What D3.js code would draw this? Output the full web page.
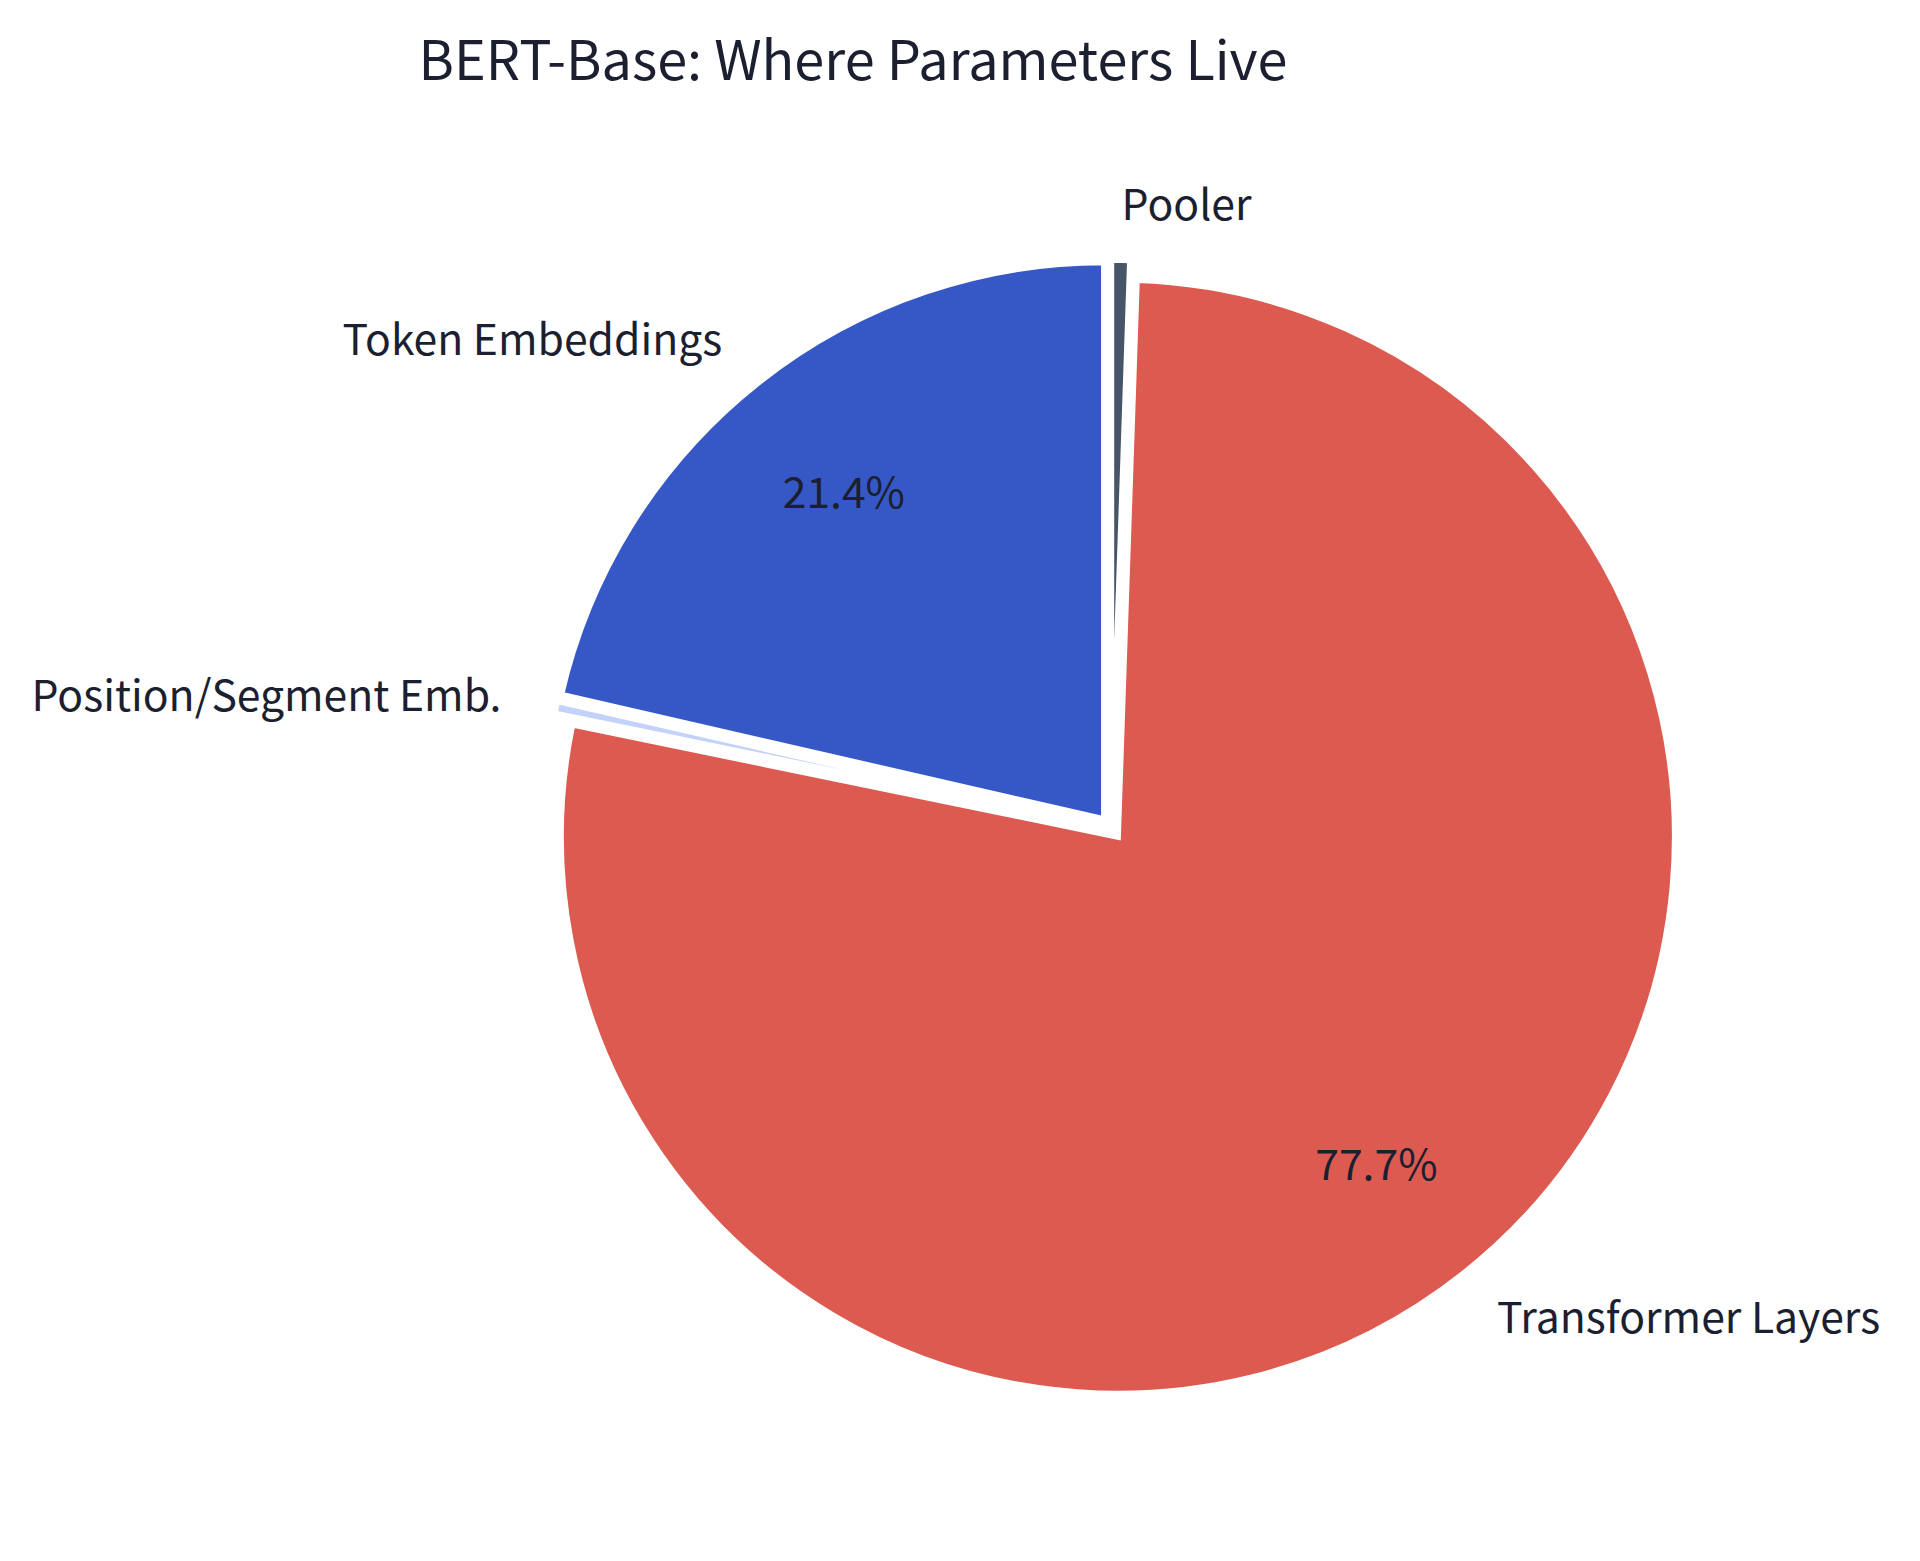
<!DOCTYPE html>
<html>
<head>
<meta charset="utf-8">
<script src="https://cdn.jsdelivr.net/npm/d3@7"></script>
<style>
    html, body { margin: 0; padding: 0; background: #ffffff; }
    text { font-family: "Noto Sans CJK KR", "Noto Sans", sans-serif; fill: #1b1f30; }
</style>
</head>
<body>
<svg id="chart" width="1920" height="1561"></svg>
<script>

// Data (parameters, millions).

const PARTS = ["Token Embeddings", "Position/Segment Emb.", "Transformer Layers", "Pooler"];
const PARAMS = [23.44, 0.397, 85.05, 0.591];
const COLORS = ["#3558c6", "#c2d2f8", "#dd5a50", "#475569"];
const EXPLODE = [0.02, 0.02, 0.02, 0.02];

const TITLE = "BERT-Base: Where Parameters Live";

// Layout.

const svg = d3.select("#chart");
const cx = 1111;
const cy = 828;
const radius = 557;
const labelDist = 1.1;
const pctDist = 0.75;

svg.append("text")
    .attr("x", 853)
    .attr("y", 80)
    .attr("text-anchor", "middle")
    .attr("font-size", 54)
    .text(TITLE);

// Pie: start at 12 o'clock, go counter-clockwise.

const rows = PARTS.map((name, i) => ({ name: name, value: PARAMS[i], color: COLORS[i], explode: EXPLODE[i] }));
const total = d3.sum(PARAMS);

const pie = d3.pie()
    .value(d => d.value)
    .sort(null)
    .startAngle(0)
    .endAngle(-2 * Math.PI);

const arcs = pie(rows);

const arc = d3.arc()
    .innerRadius(0)
    .outerRadius(radius);

// Unit direction of a slice's middle.
function dir(d) {
    const a = (d.startAngle + d.endAngle) / 2;
    return [Math.sin(a), -Math.cos(a)];
}

const g = svg.append("g").attr("transform", `translate(${cx}, ${cy})`);

const slices = g.selectAll("g.slice")
    .data(arcs)
    .join("g")
        .attr("class", "slice")
        .attr("transform", d => {
            const [ux, uy] = dir(d);
            const off = d.data.explode * radius;
            return `translate(${ux * off}, ${uy * off})`;
        });

slices.append("path")
    .attr("d", arc)
    .attr("fill", d => d.data.color)
    .attr("stroke", "#ffffff")
    .attr("stroke-width", 6)
    .attr("stroke-linejoin", "miter");

// Outer labels.

slices.append("text")
    .attr("x", d => dir(d)[0] * radius * labelDist)
    .attr("y", d => dir(d)[1] * radius * labelDist)
    .attr("dy", "0.36em")
    .attr("text-anchor", d => dir(d)[0] < 0 ? "end" : "start")
    .attr("font-size", 42.7)
    .text(d => d.data.name);

// Percentages, only for the big slices.

slices.filter(d => d.data.value / total > 0.01)
    .append("text")
    .attr("x", d => dir(d)[0] * radius * pctDist)
    .attr("y", d => dir(d)[1] * radius * pctDist)
    .attr("dy", "0.36em")
    .attr("text-anchor", "middle")
    .attr("font-size", 42.7)
    .text(d => d3.format(".1f")(d.data.value / total * 100) + "%");

</script>
</body>
</html>
